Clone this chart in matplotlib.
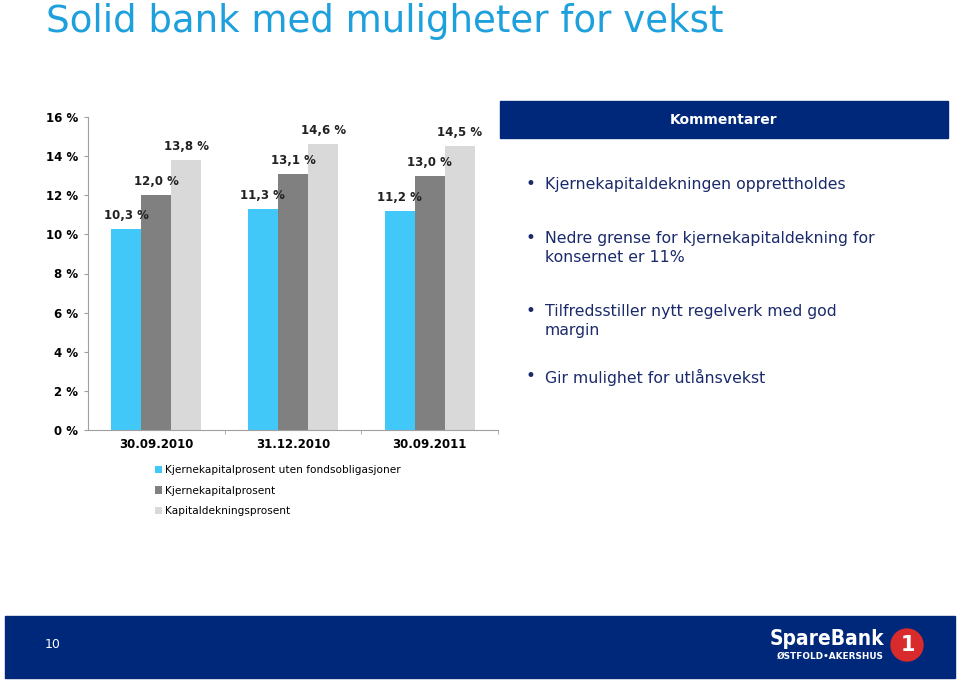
import matplotlib
matplotlib.use("Agg")
import matplotlib.pyplot as plt
from matplotlib.patches import Rectangle, Circle
import numpy as np

# data
dates = ["30.09.2010", "31.12.2010", "30.09.2011"]
series_names = [
    "Kjernekapitalprosent uten fondsobligasjoner",
    "Kjernekapitalprosent",
    "Kapitaldekningsprosent",
]
kjerne_uten_fond = [10.3, 11.3, 11.2]
kjerne = [12.0, 13.1, 13.0]
kapitaldekning = [13.8, 14.6, 14.5]
y_ticks = [0, 2, 4, 6, 8, 10, 12, 14, 16]

bullets = [
    "Kjernekapitaldekningen opprettholdes",
    "Nedre grense for kjernekapitaldekning for\nkonsernet er 11%",
    "Tilfredsstiller nytt regelverk med god\nmargin",
    "Gir mulighet for utlånsvekst",
]

colors = ["#42C8F8", "#808080", "#D9D9D9"]
navy = "#00287A"
text_navy = "#1B2A6B"

plt.rcParams["font.family"] = ["DejaVu Sans"]

W, H = 960, 681
fig = plt.figure(figsize=(W / 100, H / 100), dpi=100)


def fx(px):
    return px / W


def fy(py):
    return 1 - py / H


# title
fig.text(fx(46), fy(22), "Solid bank med muligheter for vekst", color="#1EA0DC",
         fontsize=26.7, va="center", ha="left")

# bar chart
ax = fig.add_axes([fx(88), fy(430), fx(498) - fx(88), fy(117) - fy(430)])
x = np.arange(len(dates))
bw = 0.22
for i, (vals, c, name) in enumerate(zip([kjerne_uten_fond, kjerne, kapitaldekning], colors, series_names)):
    bars = ax.bar(x + (i - 1) * bw, vals, width=bw, color=c, label=name)
    for b, v in zip(bars, vals):
        ax.annotate(f"{v:.1f} %".replace(".", ","), (b.get_x() + b.get_width() / 2, v),
                    xytext=(0, 5), textcoords="offset points", ha="center", va="bottom",
                    fontsize=8.5, fontweight="bold", color="#222222")

ax.set_xlim(-0.5, 2.5)
ax.set_ylim(0, 16)
ax.set_yticks(y_ticks)
ax.set_yticklabels([f"{t} %" for t in y_ticks], fontsize=8.5, fontweight="bold")
ax.set_xticks(x)
ax.set_xticklabels(dates, fontsize=8.5, fontweight="bold")
ax.set_xticks([0.5, 1.5, 2.5], minor=True)
ax.tick_params(axis="x", which="major", length=0, pad=6)
ax.tick_params(axis="x", which="minor", length=3, color="#A0A0A0")
ax.tick_params(axis="y", length=3, color="#A0A0A0", pad=4)
for s in ["top", "right"]:
    ax.spines[s].set_visible(False)
for s in ["left", "bottom"]:
    ax.spines[s].set_color("#A0A0A0")

ax.legend(loc="upper left", bbox_to_anchor=(fx(155), fy(465)), bbox_transform=fig.transFigure,
          frameon=False, fontsize=7.6, handlelength=0.7, handleheight=0.7,
          handletextpad=0.25, labelspacing=1.0, borderaxespad=0, borderpad=0)

# comment panel
fig.patches.append(Rectangle((fx(500), fy(138)), fx(948) - fx(500), fy(101) - fy(138),
                             transform=fig.transFigure, color=navy, zorder=0))
fig.text(fx(724), fy(120), "Kommentarer", color="white", fontsize=10, fontweight="bold",
         ha="center", va="center")

bullet_y = [184, 238, 311, 376]
for by, txt in zip(bullet_y, bullets):
    fig.text(fx(530), fy(by), "•", color=text_navy, fontsize=12, ha="center", va="center")
    fig.text(fx(545), fy(by - 7), txt, color=text_navy, fontsize=11.3, ha="left", va="top",
             linespacing=1.33)

# footer
fig.patches.append(Rectangle((fx(5), fy(678)), fx(955) - fx(5), fy(616) - fy(678),
                             transform=fig.transFigure, color=navy, zorder=0))
fig.text(fx(53), fy(644), "10", color="white", fontsize=9, ha="center", va="center")
fig.text(fx(884), fy(639), "SpareBank", color="white", fontsize=15, fontweight="bold",
         fontstretch="condensed", ha="right", va="center")
fig.text(fx(884), fy(656), "ØSTFOLD•AKERSHUS", color="white", fontsize=6.4, fontweight="bold",
         ha="right", va="center")
fig.patches.append(Circle((907 / 100, (H - 645) / 100), 0.16, transform=fig.dpi_scale_trans,
                          color="#D92B2B", zorder=1))
fig.text(fx(908), fy(645), "1", color="white", fontsize=15, fontweight="bold",
         ha="center", va="center")

fig.savefig("out.png", dpi=100)
